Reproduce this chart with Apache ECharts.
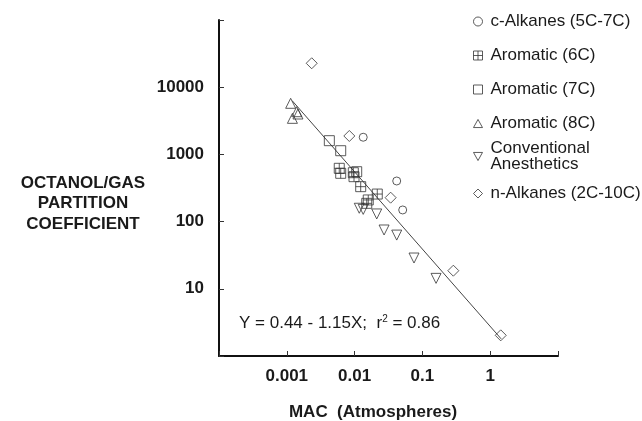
<!DOCTYPE html>
<html>
<head>
<meta charset="utf-8">
<script src="https://cdn.jsdelivr.net/npm/echarts@6/dist/echarts.min.js"></script>
<style>
html,body{margin:0;padding:0;background:#fff;}
#main{width:642px;height:421px;}
</style>
</head>
<body>
<div id="main"></div>
<script>

/********** 数据 ********** */
var seriesNames = ["c-Alkanes (5C-7C)", "Aromatic (6C)", "Aromatic (7C)", "Aromatic (8C)", "Conventional\nAnesthetics", "n-Alkanes (2C-10C)"];

var cAlkanesX = [0.0134, 0.0418, 0.0512];
var cAlkanesY = [1800, 402, 149];

var arom6X = [0.00594, 0.00624, 0.00957, 0.0098, 0.0123, 0.0216, 0.0159, 0.0151];
var arom6Y = [621, 523, 534, 466, 331, 257, 210, 187];

var arom7X = [0.00424, 0.00624, 0.01074];
var arom7Y = [1600, 1135, 553];

var arom8X = [0.00114, 0.0014, 0.00121, 0.00146];
var arom8Y = [5760, 4320, 3440, 3990];

var anestX = [0.01172, 0.0134, 0.0212, 0.0272, 0.0418, 0.0752, 0.159];
var anestY = [158, 152, 130, 75, 63, 28.7, 14.3];

var nAlkX = [0.00233, 0.00836, 0.034, 0.286, 1.43];
var nAlkY = [22700, 1880, 227, 18.6, 2.03];

// 回归线两端
var fitX = [0.0012, 1.45];
var fitY = [6300, 1.8];

var xTickValues = [0.001, 0.01, 0.1, 1];
var xTickLabels = ["0.001", "0.01", "0.1", "1"];
var yTickValues = [10, 100, 1000, 10000];
var yTickLabels = ["10", "100", "1000", "10000"];


function pairs(xs, ys){
    var out = [];
    for(var i = 0; i < xs.length; i++){
        out.push([xs[i], ys[i]]);
    }
    return out;
}

function tickLabel(values, labels){
    return function(v){
        for(var i = 0; i < values.length; i++){
            if(Math.abs(Math.log10(v) - Math.log10(values[i])) < 1e-6) return labels[i];
        }
        return "";
    }
}

var FONT = "Liberation Sans, Arial, Helvetica, sans-serif";
var INK = "#1a1a1a";

var hollow = {color : "rgba(255,255,255,0)", borderColor : "#333", borderWidth : 1};

var crossSquare = "path://M0,0H10V10H0Z M5,0V10 M0,5H10";
var downTriangle = "path://M0,0L10,0L5,9Z";

var legendText = {fontFamily : FONT, fontSize : 17, color : INK, lineHeight : 16, padding : [0, 0, 0, 3]};


/********* 散点图 ********* */
var myChart = echarts.init(document.getElementById("main"));

var option = {

    animation : false,

    grid : {left : 219, right : 84, top : 20, bottom : 65, containLabel : false, outerBoundsMode : "none"},

    legend : [
        {
            data : [
                {name : seriesNames[0], icon : "circle"},
                {name : seriesNames[1], icon : crossSquare},
                {name : seriesNames[2], icon : "rect"},
                {name : seriesNames[3], icon : "path://M5,0L10,9L0,9Z"}
            ],
            orient : "vertical",
            left : 468,
            top : 8,
            itemWidth : 9,
            itemHeight : 9,
            itemGap : 17,
            selectedMode : false,
            itemStyle : {borderWidth : 1},
            textStyle : legendText
        },
        {
            data : [
                {name : seriesNames[4], icon : downTriangle},
                {name : seriesNames[5], icon : "diamond"}
            ],
            orient : "vertical",
            left : 468,
            top : 135,
            itemWidth : 9,
            itemHeight : 9,
            itemGap : 12,
            selectedMode : false,
            itemStyle : {borderWidth : 1},
            textStyle : legendText
        }
    ],

    xAxis : {
        type : "log",
        logBase : 10,
        min : 0.0001,
        max : 10,
        splitNumber : 5,
        axisLine : {lineStyle : {color : "#111", width : 2}},
        axisTick : {inside : true, length : 5, lineStyle : {color : "#333", width : 1}},
        splitLine : {show : false},
        axisLabel : {
            margin : 12,
            fontFamily : FONT,
            fontWeight : "bold",
            fontSize : 17,
            color : INK,
            formatter : tickLabel(xTickValues, xTickLabels)
        }
    },

    yAxis : {
        type : "log",
        logBase : 10,
        min : 1,
        max : 100000,
        splitNumber : 5,
        axisLine : {lineStyle : {color : "#111", width : 2}},
        axisTick : {inside : true, length : 5, lineStyle : {color : "#333", width : 1}},
        splitLine : {show : false},
        axisLabel : {
            margin : 15,
            fontFamily : FONT,
            fontWeight : "bold",
            fontSize : 17,
            color : INK,
            formatter : tickLabel(yTickValues, yTickLabels)
        }
    },

    graphic : [
        {
            type : "text",
            x : 83,
            y : 173,
            style : {
                text : "OCTANOL/GAS\nPARTITION\nCOEFFICIENT",
                font : "bold 17px " + FONT,
                fill : INK,
                align : "center",
                verticalAlign : "top",
                lineHeight : 20.5
            }
        },
        {
            type : "text",
            x : 373,
            y : 412,
            style : {
                text : "MAC  (Atmospheres)",
                font : "bold 17px " + FONT,
                fill : INK,
                align : "center",
                verticalAlign : "middle"
            }
        },
        {
            type : "text",
            x : 239,
            y : 323,
            style : {
                text : "Y = 0.44 - 1.15X;  r{sup|2} = 0.86",
                font : "17px " + FONT,
                fill : INK,
                verticalAlign : "middle",
                rich : {
                    sup : {fontSize : 10, fontFamily : FONT, fill : INK, verticalAlign : "top", padding : [0, 0, 8, 0]}
                }
            }
        }
    ],

    series : [
        {
            name : "fit",
            type : "line",
            data : pairs(fitX, fitY),
            showSymbol : false,
            silent : true,
            lineStyle : {color : "#444", width : 1},
            z : 1
        },
        {
            name : seriesNames[0],
            type : "scatter",
            symbol : "circle",
            symbolSize : 8,
            itemStyle : hollow,
            data : pairs(cAlkanesX, cAlkanesY),
            z : 3
        },
        {
            name : seriesNames[1],
            type : "scatter",
            symbol : crossSquare,
            symbolSize : 10,
            itemStyle : hollow,
            data : pairs(arom6X, arom6Y),
            z : 3
        },
        {
            name : seriesNames[2],
            type : "scatter",
            symbol : "rect",
            symbolSize : 10,
            itemStyle : hollow,
            data : pairs(arom7X, arom7Y),
            z : 3
        },
        {
            name : seriesNames[3],
            type : "scatter",
            symbol : "triangle",
            symbolSize : 10,
            itemStyle : hollow,
            data : pairs(arom8X, arom8Y),
            z : 3
        },
        {
            name : seriesNames[4],
            type : "scatter",
            symbol : "triangle",
            symbolRotate : 180,
            symbolSize : 10,
            itemStyle : hollow,
            data : pairs(anestX, anestY),
            z : 3
        },
        {
            name : seriesNames[5],
            type : "scatter",
            symbol : "diamond",
            symbolSize : 11,
            itemStyle : hollow,
            data : pairs(nAlkX, nAlkY),
            z : 3
        }
    ]
};

myChart.setOption(option);

</script>
</body>
</html>
